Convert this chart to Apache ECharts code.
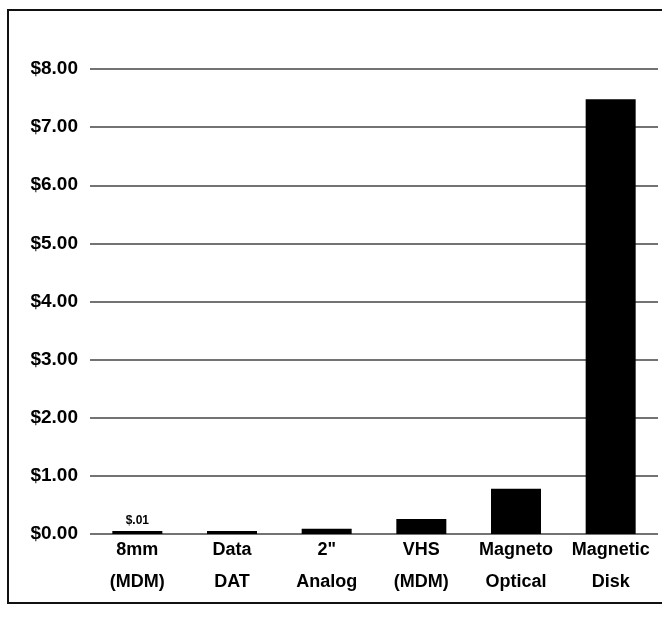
<html>
<head>
    <meta charset="UTF-8"/>
    <title>Cost per Megabyte</title>
</head>
<script src="https://cdn.jsdelivr.net/npm/echarts@6/dist/echarts.min.js"></script>
<body style="margin:0;background:#fff;">
<div id="costChart" style="width:662px;height:621px;"></div>
</body>

<script>
var categories = ['8mm\n(MDM)', 'Data\nDAT', '2"\nAnalog', 'VHS\n(MDM)', 'Magneto\nOptical', 'Magnetic\nDisk'];
var costs = [0.01, 0.04, 0.09, 0.26, 0.78, 7.48];
var barNotes = ['$.01', '', '', '', '', ''];
var font = '"Liberation Sans", Arial, sans-serif';

var myChart = echarts.init(document.getElementById('costChart'));

var seriesData = costs.map(function (v, i) {
    var item = {value: v};
    if (barNotes[i]) {
        item.label = {
            show: true,
            position: 'top',
            distance: 4,
            formatter: barNotes[i],
            fontFamily: font,
            fontWeight: 'bold',
            fontSize: 12,
            color: '#000'
        };
    }
    return item;
});

var option = {
    backgroundColor: '#fff',
    animation: false,
    graphic: [{
        type: 'rect',
        shape: {x: 8, y: 10, width: 700, height: 593},
        style: {fill: 'none', stroke: '#111', lineWidth: 2},
        silent: true
    }],
    grid: {left: 90, right: 4, top: 69, bottom: 87},
    xAxis: {
        type: 'category',
        data: categories,
        axisLine: {show: false},
        axisTick: {show: false},
        axisLabel: {
            interval: 0,
            margin: 0,
            fontFamily: font,
            fontWeight: 'bold',
            fontSize: 18,
            lineHeight: 32,
            color: '#000'
        }
    },
    yAxis: {
        type: 'value',
        min: 0,
        max: 8,
        interval: 1,
        axisLine: {show: false},
        axisTick: {show: false},
        splitLine: {lineStyle: {color: '#444', width: 1.5}},
        axisLabel: {
            margin: 12,
            fontFamily: font,
            fontWeight: 'bold',
            fontSize: 19,
            color: '#000',
            formatter: function (v) { return '$' + v.toFixed(2); }
        }
    },
    series: [{
        type: 'bar',
        data: seriesData,
        barWidth: 50,
        barMinHeight: 3,
        itemStyle: {color: '#000'}
    }]
};
myChart.setOption(option);
</script>
</html>
